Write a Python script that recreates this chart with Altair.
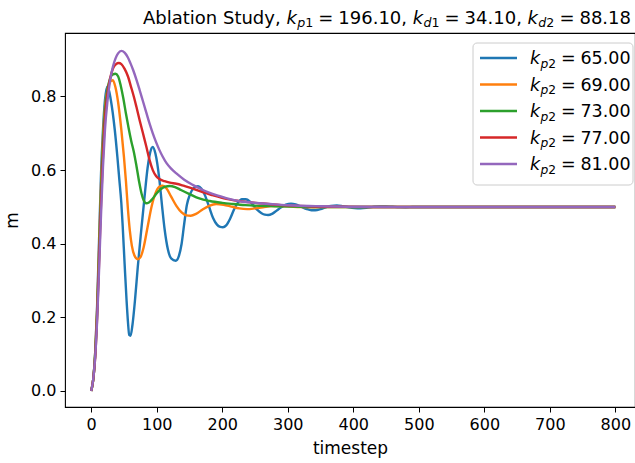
import altair as alt
import pandas as pd

# ---------------- data ----------------
kp2_values = [65.00, 69.00, 73.00, 77.00, 81.00]
series_names = ["kp2 = 65.00", "kp2 = 69.00", "kp2 = 73.00", "kp2 = 77.00", "kp2 = 81.00"]
line_colors = ["#1f77b4", "#ff7f0e", "#2ca02c", "#d62728", "#9467bd"]

t_65 = [0, 3, 6, 9, 12, 15, 18, 21, 25, 30, 36, 40, 43, 46, 48, 51, 54, 56, 58, 60, 63, 67, 71, 76, 81, 86,
        90, 94, 98, 104, 108, 112, 117, 122, 129, 134, 138, 142, 146, 151, 157, 163, 168, 174, 180, 186, 192,
        197, 201, 206, 212, 218, 224, 230, 236, 242, 248, 254, 260, 265, 270, 276, 283, 290, 297, 305, 312,
        320, 328, 336, 342, 350, 358, 366, 375, 384, 393, 402, 411, 420, 430, 440, 450, 460, 470, 480, 490,
        500, 550, 600, 700, 800]
m_65 = [0.0, 0.03, 0.10, 0.23, 0.41, 0.59, 0.71, 0.79, 0.828, 0.79, 0.709, 0.635, 0.573, 0.51, 0.45, 0.345,
        0.245, 0.19, 0.152, 0.15, 0.18, 0.25, 0.335, 0.43, 0.52, 0.605, 0.648, 0.663, 0.645, 0.575, 0.505,
        0.44, 0.385, 0.36, 0.354, 0.368, 0.40, 0.455, 0.505, 0.535, 0.552, 0.556, 0.55, 0.53, 0.50, 0.47,
        0.452, 0.446, 0.445, 0.45, 0.468, 0.493, 0.512, 0.521, 0.521, 0.515, 0.503, 0.491, 0.483, 0.479,
        0.478, 0.481, 0.49, 0.499, 0.506, 0.509, 0.507, 0.501, 0.495, 0.491, 0.491, 0.494, 0.499, 0.503,
        0.504, 0.502, 0.499, 0.497, 0.4965, 0.4975, 0.5, 0.5015, 0.5015, 0.5005, 0.4995, 0.4993, 0.4997,
        0.5, 0.5, 0.5, 0.5, 0.5]

t_69 = [0, 3, 6, 9, 12, 15, 18, 21, 25, 29, 33, 37, 41, 46, 50, 53, 56, 59, 62, 66, 71, 75, 80, 86, 92, 98,
        104, 109, 115, 122, 130, 138, 145, 152, 160, 170, 180, 191, 202, 214, 226, 238, 250, 262, 275, 290,
        305, 320, 340, 360, 400, 500, 600, 700, 800]
m_69 = [0.0, 0.03, 0.10, 0.22, 0.39, 0.56, 0.69, 0.77, 0.82, 0.84, 0.844, 0.825, 0.785, 0.709, 0.635, 0.57,
        0.495, 0.435, 0.395, 0.368, 0.358, 0.363, 0.39, 0.445, 0.50, 0.537, 0.555, 0.558, 0.55, 0.528, 0.503,
        0.485, 0.477, 0.476, 0.481, 0.493, 0.503, 0.508, 0.506, 0.501, 0.496, 0.494, 0.496, 0.499, 0.5025,
        0.5025, 0.5008, 0.4995, 0.4993, 0.5, 0.5, 0.5, 0.5, 0.5, 0.5]

t_73 = [0, 3, 6, 9, 12, 15, 18, 21, 25, 29, 33, 37, 41, 45, 49, 53, 57, 61, 65, 69, 73, 77, 80, 84, 88, 94,
        100, 106, 113, 120, 128, 137, 150, 165, 181, 200, 216, 235, 257, 280, 310, 350, 400, 500, 600, 700, 800]
m_73 = [0.0, 0.03, 0.10, 0.21, 0.37, 0.54, 0.67, 0.76, 0.82, 0.85, 0.86, 0.862, 0.855, 0.83, 0.795, 0.754,
        0.715, 0.68, 0.65, 0.612, 0.57, 0.535, 0.518, 0.51, 0.512, 0.523, 0.537, 0.548, 0.555, 0.557, 0.554,
        0.546, 0.535, 0.523, 0.516, 0.511, 0.508, 0.505, 0.503, 0.502, 0.501, 0.5, 0.5, 0.5, 0.5, 0.5, 0.5]

t_77 = [0, 3, 6, 9, 12, 15, 18, 21, 25, 29, 33, 38, 42, 46, 51, 56, 61, 65, 69, 74, 79, 84, 89, 94, 99, 104,
        112, 120, 130, 142, 155, 170, 185, 206, 230, 257, 290, 330, 380, 430, 500, 600, 700, 800]
m_77 = [0.0, 0.03, 0.09, 0.20, 0.35, 0.51, 0.64, 0.74, 0.81, 0.85, 0.875, 0.888, 0.891, 0.888, 0.875, 0.855,
        0.825, 0.80, 0.772, 0.735, 0.70, 0.665, 0.628, 0.60, 0.584, 0.576, 0.57, 0.566, 0.563, 0.557, 0.55,
        0.54, 0.532, 0.522, 0.515, 0.51, 0.505, 0.502, 0.5005, 0.5, 0.5, 0.5, 0.5, 0.5]

t_81 = [0, 3, 6, 9, 12, 15, 18, 21, 25, 29, 33, 37, 41, 46, 51, 56, 60, 64, 69, 74, 79, 84, 89, 94, 99, 104,
        109, 115, 122, 130, 142, 155, 168, 181, 195, 206, 220, 231, 245, 257, 280, 310, 350, 400, 450, 500,
        600, 700, 800]
m_81 = [0.0, 0.03, 0.09, 0.19, 0.33, 0.48, 0.61, 0.71, 0.79, 0.845, 0.88, 0.903, 0.917, 0.924, 0.919, 0.906,
        0.89, 0.872, 0.846, 0.817, 0.787, 0.757, 0.727, 0.70, 0.676, 0.655, 0.637, 0.619, 0.604, 0.591, 0.574,
        0.56, 0.548, 0.538, 0.53, 0.524, 0.518, 0.514, 0.512, 0.51, 0.507, 0.504, 0.502, 0.5005, 0.5, 0.5,
        0.5, 0.5, 0.5]

x_ticks = [0, 100, 200, 300, 400, 500, 600, 700, 800]
y_ticks = [0.0, 0.2, 0.4, 0.6, 0.8]

title_prefix = "Ablation Study, "
title_params = [("p", "1", "196.10"), ("d", "1", "34.10"), ("d", "2", "88.18")]

# ---------------- build table ----------------
series_t = [t_65, t_69, t_73, t_77, t_81]
series_m = [m_65, m_69, m_73, m_77, m_81]
rows = []
for name, ts, ms in zip(series_names, series_t, series_m):
    for t, m in zip(ts, ms):
        rows.append({"timestep": t, "m": m, "series": name})
df = pd.DataFrame(rows)

W, H = 570, 374
FONT = "DejaVu Sans"

color_scale = alt.Scale(domain=series_names, range=line_colors)

lines = alt.Chart(df).mark_line(strokeWidth=2.4, interpolate="monotone", clip=True).encode(
    x=alt.X("timestep:Q",
            scale=alt.Scale(domain=[-40, 830], nice=False, zero=False),
            axis=alt.Axis(values=x_ticks, format="d", title="timestep", grid=False, domain=False,
                          labelFontSize=16, titleFontSize=17, tickSize=5, tickColor="black",
                          labelColor="black", titleColor="black", labelPadding=4, titlePadding=8,
                          labelFont=FONT, titleFont=FONT, titleFontWeight="normal", labelFlush=False)),
    y=alt.Y("m:Q",
            scale=alt.Scale(domain=[-0.0435, 0.9725], nice=False, zero=False),
            axis=alt.Axis(values=y_ticks, format=".1f", title="m", grid=False, domain=False,
                          labelFontSize=16, titleFontSize=17, tickSize=5, tickColor="black",
                          labelColor="black", titleColor="black", labelPadding=4, titlePadding=9,
                          labelFont=FONT, titleFont=FONT, titleFontWeight="normal", labelFlush=False)),
    color=alt.Color("series:N", scale=color_scale, legend=None),
)

one = pd.DataFrame({"a": [0]})

# approximate DejaVu Sans advance widths (em)
CW = {"0": .636, "1": .636, "2": .636, "3": .636, "4": .636, "5": .636, "6": .636, "7": .636, "8": .636,
      "9": .636, ".": .318, ",": .318, " ": .318, "=": .838, "k": .579, "p": .635, "d": .635, "A": .684,
      "b": .635, "l": .278, "a": .613, "t": .392, "i": .278, "o": .612, "n": .634, "S": .635, "u": .634,
      "y": .592}


def tw(s, size):
    return sum(CW.get(c, 0.6) for c in s) * size


def txt(s, x, y, size, italic=False, color="black"):
    kw = dict(align="left", baseline="alphabetic", fontSize=size, font=FONT, color=color)
    if italic:
        kw["fontStyle"] = "italic"
    return alt.Chart(one).mark_text(**kw).encode(x=alt.value(x), y=alt.value(y), text=alt.value(s))


def math_run(sub_letter, sub_digit, value, x, y, F):
    out = []
    out.append(txt("k", x, y, F, italic=True))
    x += tw("k", F) + 0.02 * F
    fs = 0.7 * F
    out.append(txt(sub_letter, x, y + 0.22 * F, fs, italic=True))
    x += tw(sub_letter, fs)
    out.append(txt(sub_digit, x, y + 0.22 * F, fs))
    x += tw(sub_digit, fs)
    x += 0.278 * F
    out.append(txt("=", x, y, F))
    x += tw("=", F) + 0.278 * F
    out.append(txt(value, x, y, F))
    x += tw(value, F)
    return out, x


# ---------------- title ----------------
TF = 18
layers = []
x = 78
ty = -9.5
layers.append(txt(title_prefix, x, ty, TF))
x += tw(title_prefix, TF)
for i, (sl, sd, val) in enumerate(title_params):
    parts, x = math_run(sl, sd, val, x, ty, TF)
    layers += parts
    if i < len(title_params) - 1:
        layers.append(txt(",", x, ty, TF))
        x += tw(", ", TF)

# ---------------- legend ----------------
LF = 17.5
legend_box = alt.Chart(one).mark_rect(cornerRadius=4, stroke="#cccccc", strokeWidth=1, fill="white",
                                      fillOpacity=0.85).encode(
    x=alt.value(408), x2=alt.value(568), y=alt.value(10), y2=alt.value(152))
legend_layers = [legend_box]
row0 = 25
row_step = 26.5
for i, (name, col, v) in enumerate(zip(series_names, line_colors, kp2_values)):
    cy = row0 + i * row_step
    legend_layers.append(alt.Chart(one).mark_rule(strokeWidth=2.4, color=col).encode(
        x=alt.value(415), x2=alt.value(452), y=alt.value(cy)))
    parts, _ = math_run("p", "2", f"{v:.2f}", 465, cy + 6, LF)
    legend_layers += parts

chart = alt.layer(lines, *legend_layers, *layers).properties(
    width=W, height=H,
    autosize=alt.AutoSizeParams(type="none"),
    padding={"left": 65, "top": 33, "right": 0, "bottom": 56},
    background="white",
).configure_view(stroke="black", strokeWidth=1.1)

chart.save("out.html", embed_options={"renderer": "svg", "actions": False})
